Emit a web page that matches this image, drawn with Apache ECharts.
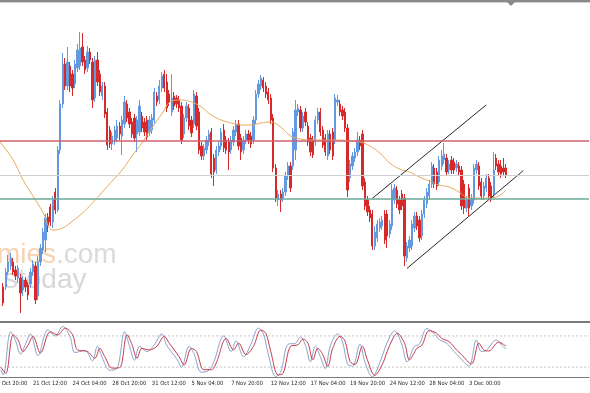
<!DOCTYPE html>
<html><head><meta charset="utf-8">
<script src="https://cdn.jsdelivr.net/npm/echarts@6/dist/echarts.min.js"></script>
<style>html,body{margin:0;padding:0;background:#fff}#c{width:590px;height:393px}</style>
</head><body><div id="c"></div>
<script>
// time-axis tick labels, one every 16 H4 bars starting at bar 0
const tickLabels = ["16 Oct 20:00","21 Oct 12:00","24 Oct 04:00","28 Oct 20:00","31 Oct 12:00","5 Nov 04:00","7 Nov 20:00","12 Nov 12:00","17 Nov 04:00","19 Nov 20:00","24 Nov 12:00","28 Nov 04:00","3 Dec 00:00"];
const labelEvery = 16;
const barCount = 241;
const firstBar = 4;
// candles: [open, close, low, high]
const candles = [
[33,17,14,37],[33,48,30,52],[48,58,45,65],[54,62,50,67],[58,48,45,62],[50,44,40,54],[42,52,37,55],[42,27,7,46],[30,40,24,44],[40,33,28,43],
[35,25,20,38],[36,48,32,52],[48,56,44,60],[54,20,16,58],[24,58,20,64],[58,72,54,76],[70,88,66,92],[80,102,68,106],[103,94,88,107],[113,98,94,116],
[98,120,92,124],[128,110,106,132],[110,170,108,174],[170,216,166,220],[216,256,212,267],[256,234,230,262],[234,258,230,273],[254,234,228,258],[246,232,224,250],[236,256,232,260],
[252,270,248,276],[254,272,250,288],[273,258,254,287],[260,250,246,264],[252,268,248,274],[268,260,256,272],[258,220,212,262],[222,260,218,264],[260,238,234,268],[246,228,224,250],
[224,234,220,238],[234,206,202,238],[208,175,170,212],[190,176,172,194],[176,184,170,188],[180,190,175,194],[182,194,178,200],[194,186,180,198],[184,200,165,204],[196,218,192,224],
[216,202,198,220],[208,196,192,212],[198,186,182,202],[202,182,178,206],[186,200,168,204],[188,214,184,220],[204,192,188,208],[198,188,184,202],[200,183,180,204],[188,200,184,204],
[190,202,186,206],[200,228,196,232],[224,218,214,228],[220,234,216,240],[232,244,228,248],[246,232,228,250],[238,212,208,246],[226,218,214,230],[208,222,204,246],[224,214,210,228],
[222,216,212,225],[220,212,208,224],[214,180,176,218],[186,202,182,206],[202,214,198,218],[212,194,190,216],[200,187,183,204],[196,226,192,230],[224,194,190,228],[208,170,166,212],
[174,164,160,178],[164,172,160,176],[170,180,166,184],[178,186,174,190],[188,146,142,192],[162,148,134,166],[150,170,146,174],[168,174,164,178],[174,188,170,192],[190,172,168,196],
[180,170,166,184],[178,168,150,182],[170,180,166,184],[178,190,174,194],[188,196,184,200],[196,174,170,200],[182,168,160,186],[170,180,166,184],[180,186,176,190],[186,180,176,190],
[184,176,172,188],[180,200,176,204],[200,226,196,230],[226,236,222,240],[234,242,230,245],[240,232,228,243],[234,226,222,238],[228,220,216,232],[222,200,196,226],[202,152,148,206],
[152,122,118,156],[120,126,114,130],[126,120,108,130],[122,128,118,132],[128,144,124,148],[144,154,140,158],[154,132,128,158],[154,188,150,192],[170,210,160,220],[208,212,204,216],
[210,192,188,214],[192,204,188,208],[208,198,194,212],[194,178,174,198],[182,168,164,186],[180,165,162,184],[178,200,174,204],[200,208,196,212],[208,188,184,212],[190,175,172,194],
[182,168,164,186],[164,186,160,190],[186,170,166,190],[188,164,160,192],[180,222,176,226],[218,220,214,225],[216,208,204,220],[210,204,200,214],[208,192,188,212],[192,130,123,196],
[142,156,138,160],[154,164,150,168],[162,168,158,172],[168,180,164,188],[180,174,170,184],[186,134,130,190],[138,114,110,142],[120,108,104,124],[110,102,98,114],[106,74,70,110],
[74,88,70,94],[82,96,78,100],[92,98,88,102],[94,100,90,104],[106,80,76,110],[106,84,72,110],[86,96,82,100],[94,130,90,136],[120,132,116,136],[130,116,112,134],
[120,110,106,124],[126,114,110,130],[122,64,54,126],[62,74,58,78],[72,80,68,84],[74,96,70,100],[92,104,88,108],[104,94,90,108],[100,82,78,104],[84,106,80,110],
[106,120,102,124],[116,128,112,132],[124,136,120,140],[136,154,132,158],[152,136,132,156],[148,134,130,152],[138,160,134,164],[154,164,150,170],[160,166,156,177],[162,148,144,166],
[150,156,146,160],[160,150,146,164],[158,150,146,162],[152,156,148,160],[154,148,144,158],[150,114,110,154],[136,112,106,140],[112,120,108,124],[132,112,104,136],[114,122,110,126],
[120,152,116,156],[150,156,146,160],[154,134,130,158],[138,124,120,142],[124,134,120,138],[132,142,128,146],[142,124,120,146],[134,122,118,138],[126,150,122,168],[162,154,150,166],
[156,148,144,160],[154,146,142,160],[152,148,144,162],[152,145,142,156]
];
// moving average: [bar, value]
const maPoints = [[2,180],[4,174],[8,160],[12,140],[16,124],[20,108],[24,90],[28,92],[32,99],[36,107],[40,117],[44,128],[48,139],[52,150],[56,164],[60,177],[64,192],[68,206],[72,219],[76,220],[80,218],[84,213],[88,205],[92,200],[96,197],[100,195],[104,195],[108,197],[112,198],[116,193],[120,184],[124,181],[128,180],[132,180],[136,180],[140,180],[144,179],[148,178],[152,174],[156,167],[160,157],[164,151],[168,148],[172,143],[176,139],[180,135],[184,133],[188,128],[192,122],[196,122],[200,122],[204,124],[207,130]];
// horizontal levels
const levelValues = [179, 144.5, 121];
const levelColors = ["#d0606e", "#d0d0d0", "#6aa898"];
const levelWidths = [1.4, 1, 1.4];
// channel trend lines: [bar, value]
const channelUpper = [[153,121.6],[199,215.1]];
const channelLower = [[167,51.6],[214,149.5]];
// stochastic
const stochLevels = [80, 20];
const stochK = [[3,15],[4,5],[7,88],[9,70],[11,45],[13,64],[15,84],[18,42],[22,92],[25,80],[28,98],[31,78],[33,48],[37,52],[40,32],[42,60],[44,38],[47,14],[50,18],[53,88],[55,60],[57,33],[59,60],[62,50],[65,63],[68,84],[70,62],[74,36],[76,20],[79,60],[81,46],[84,10],[87,14],[89,30],[93,80],[96,50],[98,70],[101,40],[104,64],[107,95],[109,84],[111,45],[114,2],[116,10],[119,64],[122,66],[124,78],[126,62],[128,30],[130,60],[132,40],[134,17],[136,60],[139,84],[141,68],[143,26],[145,22],[148,64],[150,30],[153,1],[156,28],[158,55],[160,78],[162,90],[165,62],[167,30],[170,60],[172,64],[175,94],[178,84],[180,73],[183,66],[186,50],[188,40],[192,22],[195,72],[197,50],[199,52],[203,72],[206,58],[207,55]];
const stochD = [[3,20],[5,8],[8,82],[10,72],[12,50],[14,62],[16,79],[19,47],[23,88],[26,82],[29,95],[32,82],[34,53],[38,50],[41,37],[43,56],[45,40],[48,18],[51,19],[54,82],[56,63],[58,37],[60,56],[63,53],[66,60],[69,79],[71,66],[75,40],[77,24],[80,56],[82,50],[85,15],[88,15],[90,28],[94,75],[97,53],[99,66],[102,44],[105,60],[108,91],[110,85],[112,50],[115,5],[117,8],[120,60],[123,63],[125,74],[127,66],[129,34],[131,56],[133,44],[135,21],[137,56],[140,79],[142,70],[144,31],[146,25],[149,60],[151,34],[154,4],[157,25],[159,50],[161,72],[163,85],[166,66],[168,34],[171,56],[173,62],[176,90],[179,85],[181,75],[184,69],[187,53],[189,44],[193,26],[196,66],[198,53],[200,51],[204,68],[207,60]];

const cats = [];
for (let i = 0; i < barCount; i++) cats.push(String(i));
const candleData = [];
for (let i = 0; i < barCount; i++) {
  const j = i - firstBar;
  candleData.push(j >= 0 && j < candles.length ? candles[j] : '-');
}
const isLabel = (idx) => idx % labelEvery === 0 && idx / labelEvery < tickLabels.length;
const BULL = '#6399e0', BEAR = '#d62a2a';
const chart = echarts.init(document.getElementById('c'), null, {renderer: 'canvas'});
const gridLeft = -7.9, slotW = 2.477;
// horizontal levels drawn across the full panel on a hidden 0..1 value axis
const levelSeries = levelValues.map((v, i) => ({
  type: 'line', xAxisIndex: 2, yAxisIndex: 0, data: [[0, v], [1, v]], z: 5, symbol: 'none', silent: true,
  lineStyle: {color: levelColors[i], width: levelWidths[i], type: 'solid'}
}));
const stochLevelSeries = stochLevels.map(v => ({
  type: 'line', xAxisIndex: 3, yAxisIndex: 1, data: [[0, v], [1, v]], z: 1, symbol: 'none', silent: true,
  lineStyle: {color: '#c4c4c4', width: 1, type: [2, 2]}
}));
chart.setOption({
  animation: false,
  backgroundColor: '#ffffff',
  grid: [
    {left: gridLeft, width: barCount * slotW, top: 0, height: 320, outerBoundsMode: 'none', containLabel: false},
    {left: gridLeft, width: barCount * slotW, top: 325.5, height: 52, outerBoundsMode: 'none', containLabel: false}
  ],
  xAxis: [
    {type: 'category', gridIndex: 0, data: cats, boundaryGap: true, show: false},
    {type: 'category', gridIndex: 1, data: cats, boundaryGap: true,
     axisLine: {lineStyle: {color: '#7a7a7a', width: 1}},
     axisTick: {alignWithLabel: true, interval: (i) => isLabel(i), length: 3, lineStyle: {color: '#7a7a7a'}},
     axisLabel: {interval: (i) => isLabel(i), formatter: (v, i) => tickLabels[i / labelEvery] || '',
       align: 'left', margin: 3, fontSize: 5.8, color: '#2a2a2a', hideOverlap: false,
       showMinLabel: true, showMaxLabel: true,
       fontFamily: '"Liberation Sans Narrow", "DejaVu Sans Condensed", "Liberation Sans", sans-serif'},
     splitLine: {show: false}},
    {type: 'value', gridIndex: 0, min: 0, max: 1, show: false},
    {type: 'value', gridIndex: 1, min: 0, max: 1, show: false}
  ],
  yAxis: [
    {type: 'value', gridIndex: 0, min: 0, max: 320, show: false},
    {type: 'value', gridIndex: 1, min: 0, max: 100, show: false}
  ],
  graphic: [
    {type: 'text', z: -10, silent: true, style: {text: 'mies', x: -3, y: 241, fill: '#f7d2b2', font: '28px "Liberation Sans", Arial, sans-serif'}},
    {type: 'text', z: -10, silent: true, style: {text: '.com', x: 56, y: 241, fill: '#dadada', font: '28px "Liberation Sans", Arial, sans-serif'}},
    {type: 'text', z: -10, silent: true, style: {text: 'stoday', x: 4, y: 266, fill: '#d8d8d8', font: '28px "Liberation Sans", Arial, sans-serif'}},
    {type: 'rect', z: 100, silent: true, shape: {x: 0, y: 0, width: 590, height: 2}, style: {fill: '#8a8a8a'}},
    {type: 'rect', z: 100, silent: true, shape: {x: 0, y: 2, width: 590, height: 1}, style: {fill: '#cfcfcf'}},
    {type: 'polygon', z: 101, silent: true, shape: {points: [[507, 2], [515, 2], [511, 6]]}, style: {fill: '#8a8a8a'}},
    {type: 'rect', z: 100, silent: true, shape: {x: 0, y: 321, width: 590, height: 2}, style: {fill: '#7a7a7a'}}
  ],
  series: [
    {type: 'candlestick', xAxisIndex: 0, yAxisIndex: 0, data: candleData, barWidth: 1.8,
     itemStyle: {color: BULL, color0: BEAR, borderColor: BULL, borderColor0: BEAR, borderWidth: 1}},
    ...levelSeries,
    {type: 'line', xAxisIndex: 0, yAxisIndex: 0, data: maPoints, smooth: 0.4, symbol: 'none',
     lineStyle: {color: '#e9a95e', width: 1}, z: 3},
    {type: 'line', xAxisIndex: 0, yAxisIndex: 0, data: channelUpper, symbol: 'none', lineStyle: {color: '#2a2a2a', width: 1}, z: 4},
    {type: 'line', xAxisIndex: 0, yAxisIndex: 0, data: channelLower, symbol: 'none', lineStyle: {color: '#2a2a2a', width: 1}, z: 4},
    ...stochLevelSeries,
    {type: 'line', xAxisIndex: 1, yAxisIndex: 1, data: stochK, smooth: 0.35, symbol: 'none',
     lineStyle: {color: '#8aa4cc', width: 1}},
    {type: 'line', xAxisIndex: 1, yAxisIndex: 1, data: stochD, smooth: 0.35, symbol: 'none',
     lineStyle: {color: '#c63a4c', width: 1}}
  ]
});
</script></body></html>
